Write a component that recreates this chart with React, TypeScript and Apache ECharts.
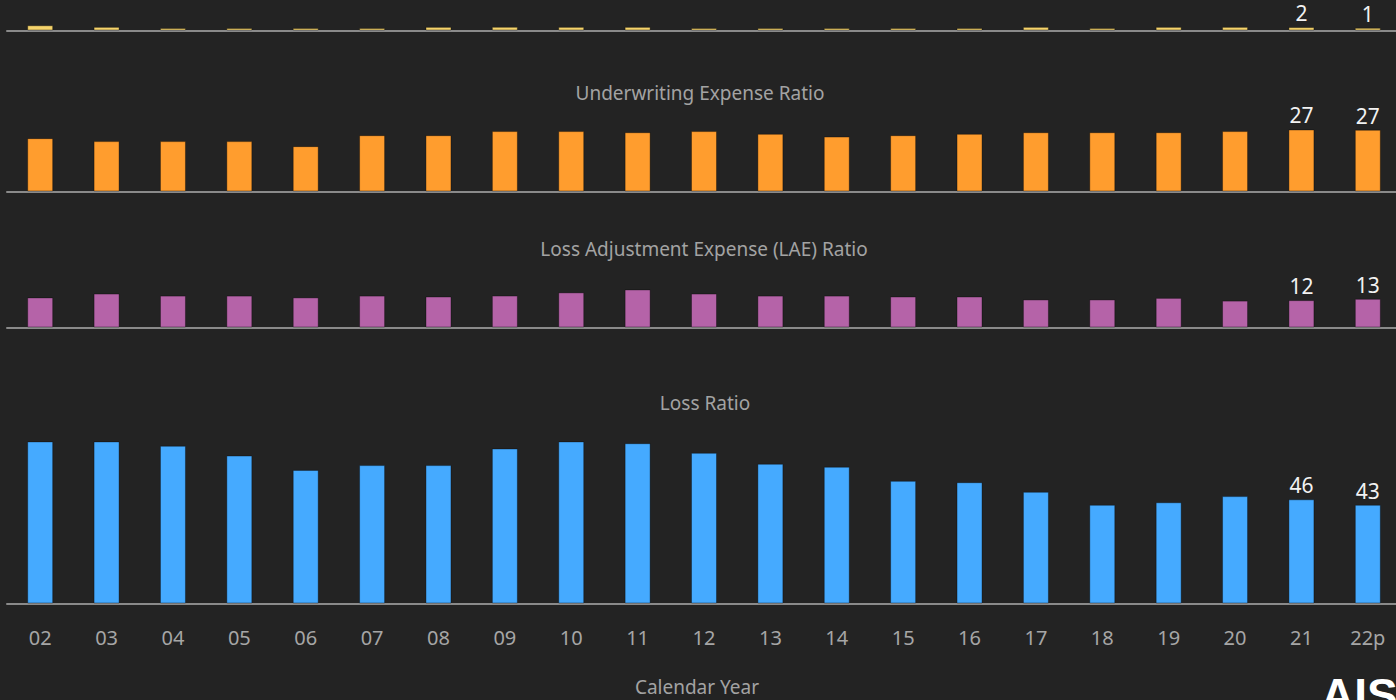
import React, { useEffect, useRef } from "react";
import * as echarts from "echarts";

const years = ["02", "03", "04", "05", "06", "07", "08", "09", "10", "11", "12", "13", "14", "15", "16", "17", "18", "19", "20", "21", "22p"];

const dividendRatio = [2.3, 1.6, 1.1, 1.1, 1.1, 1.1, 1.6, 1.6, 1.6, 1.6, 1.1, 1.1, 1.1, 1.1, 1.1, 1.6, 1.1, 1.6, 1.6, 1.5, 1.2];
const uwExpenseRatio = [23.4, 22.1, 22.1, 22.1, 19.9, 24.7, 24.7, 26.5, 26.5, 26.0, 26.5, 25.3, 24.1, 24.7, 25.3, 26.0, 26.0, 26.0, 26.5, 27.2, 27.1];
const laeRatio = [13.2, 14.9, 14.0, 14.0, 13.2, 14.0, 13.6, 14.0, 15.4, 16.7, 14.9, 14.0, 14.0, 13.6, 13.6, 12.3, 12.3, 13.0, 11.8, 12.0, 12.6];
const lossRatio = [71.1, 71.1, 69.2, 64.9, 58.6, 60.7, 60.7, 68.0, 71.1, 70.3, 66.1, 61.3, 60.0, 53.8, 53.2, 49.0, 43.3, 44.4, 47.1, 45.7, 43.3];

const panelTitles = ["", "Underwriting Expense Ratio", "Loss Adjustment Expense (LAE) Ratio", "Loss Ratio"];
const xAxisName = "Calendar Year";

const PX_PER_UNIT = 2.28;

export default function App() {
  const ref = useRef<HTMLDivElement>(null);
  useEffect(() => {
    if (!ref.current) return;
    const chart = echarts.init(ref.current, null, { renderer: "svg" });
    const font = "'Noto Sans', 'Open Sans', sans-serif";
    const panels = [
      { bottom: 30.5, max: 10, data: dividendRatio, color: "#f5d36b" },
      { bottom: 191.5, max: 30, data: uwExpenseRatio, color: "#ff9d2e" },
      { bottom: 327.5, max: 20, data: laeRatio, color: "#b563a8" },
      { bottom: 603.5, max: 80, data: lossRatio, color: "#45aaff" },
    ];
    const grids = panels.map((p) => {
      const h = p.max * PX_PER_UNIT;
      return { left: 7, width: 1394, top: p.bottom - h, height: h, containLabel: false };
    });
    const xAxes = panels.map((p, i) => ({
      type: "category",
      gridIndex: i,
      data: years,
      axisLine: { show: true, lineStyle: { color: "#8a8a8a", width: 2 } },
      axisTick: { show: false },
      axisLabel: i === 3
        ? { show: true, color: "#a6a6a6", fontSize: 20, fontFamily: font, margin: 24 }
        : { show: false },
      splitLine: { show: false },
    }));
    const yAxes = panels.map((p, i) => ({
      type: "value",
      gridIndex: i,
      min: 0,
      max: p.max,
      show: false,
      splitLine: { show: false },
    }));
    const series = panels.map((p, i) => ({
      type: "bar",
      xAxisIndex: i,
      yAxisIndex: i,
      barWidth: 26,
      itemStyle: { color: p.color, borderColor: "rgba(0,0,0,0.35)", borderWidth: 1 },
      label: {
        show: false,
        position: "top",
        distance: 5,
        color: "#f2f2f2",
        fontSize: 21,
        lineHeight: 18,
        fontFamily: font,
        formatter: (q: any) => String(Math.round(q.value)),
      },
      data: p.data.map((v, j) =>
        j >= p.data.length - 2 ? { value: v, label: { show: true } } : v
      ),
    }));
    const titleY = [0, 93, 249, 403];
    const titleX = [704, 700, 704, 705];
    const graphics: any[] = [];
    panelTitles.forEach((t, i) => {
      if (!t) return;
      graphics.push({
        type: "text",
        x: titleX[i],
        y: titleY[i],
        style: { text: t, fill: "#a3a3a3", fontSize: 19, fontFamily: font, align: "center", verticalAlign: "middle" },
      });
    });
    graphics.push({
      type: "text",
      x: 697,
      y: 687,
      style: { text: xAxisName, fill: "#a3a3a3", fontSize: 19, fontFamily: font, align: "center", verticalAlign: "middle" },
    });
    graphics.push({
      type: "text",
      x: 1321,
      y: 672,
      style: { text: "AIS", fill: "#ffffff", fontSize: 46, fontWeight: "bold", fontFamily: "'Liberation Sans', Arial, sans-serif", align: "left", verticalAlign: "top" },
    });
    chart.setOption({
      animation: false,
      backgroundColor: "#232323",
      grid: grids,
      xAxis: xAxes,
      yAxis: yAxes,
      series,
      graphic: graphics,
    });
    return () => chart.dispose();
  }, []);
  return (
    <div style={{ position: "fixed", left: 0, top: 0, width: 1396, height: 700, overflow: "hidden", background: "#232323" }}>
      <div ref={ref} style={{ position: "absolute", left: 0, top: 0, width: 1402, height: 700 }} />
    </div>
  );
}
